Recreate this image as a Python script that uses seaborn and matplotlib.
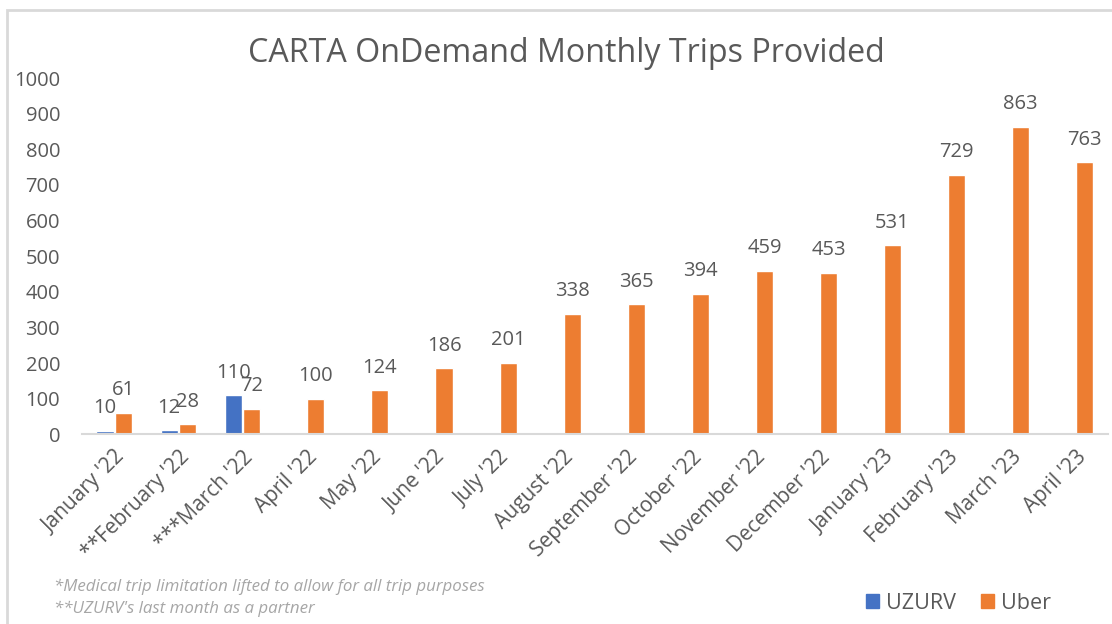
import pandas as pd
import seaborn as sns
import matplotlib.pyplot as plt
from matplotlib.patches import Rectangle

months = ["January '22", "**February '22", "***March '22", "April '22", "May '22",
          "June '22", "July '22", "August '22", "September '22", "October '22",
          "November '22", "December '22", "January '23", "February '23",
          "March '23", "April '23"]
uzurv = [10, 12, 110] + [None] * 13
uber = [61, 28, 72, 100, 124, 186, 201, 338, 365, 394, 459, 453, 531, 729, 863, 763]
notes = ["*Medical trip limitation lifted to allow for all trip purposes",
         "**UZURV's last month as a partner"]

blue = '#4472C4'
orange = '#ED7D31'
grey = '#595959'

df = pd.DataFrame({'month': months * 2,
                   'trips': uzurv + uber,
                   'provider': ['UZURV'] * len(months) + ['Uber'] * len(months)})

sns.set_style('white')
plt.rcParams['font.family'] = ['Open Sans', 'DejaVu Sans']

fig = plt.figure(figsize=(11.12, 6.24), dpi=100)
ax = fig.add_axes([0.074, 0.304, 0.922, 0.571])

sns.barplot(data=df, x='month', y='trips', hue='provider', order=months,
            hue_order=['UZURV', 'Uber'], palette=[blue, orange], saturation=1,
            width=0.58, gap=0.08, ax=ax, legend=False)

# value labels
for cont in ax.containers:
    labels = ['' if pd.isna(v) else f'{v:.0f}' for v in cont.datavalues]
    ax.bar_label(cont, labels=labels, padding=9, fontsize=14.5, color=grey)

ax.set_ylim(0, 1000)
ax.set_xlim(-0.5, len(months) - 0.5)
ax.set_yticks(range(0, 1001, 100))
ax.tick_params(axis='y', labelsize=14.5, labelcolor=grey, length=0, pad=16)
ax.tick_params(axis='x', labelsize=15, labelcolor=grey, length=0, pad=9)
for lab in ax.get_xticklabels():
    lab.set_rotation(45)
    lab.set_ha('right')
    lab.set_rotation_mode('anchor')
ax.set_xlabel('')
ax.set_ylabel('')
for s in ['top', 'right', 'left']:
    ax.spines[s].set_visible(False)
ax.spines['bottom'].set_color('#D9D9D9')
ax.spines['bottom'].set_linewidth(1.5)

fig.text(0.509, 0.915, 'CARTA OnDemand Monthly Trips Provided', ha='center',
         va='center', fontsize=23.2, color=grey)

fig.text(0.049, 0.059, notes[0], fontsize=12.2, style='italic', color='#A6A6A6', va='center')
fig.text(0.049, 0.024, notes[1], fontsize=12.2, style='italic', color='#A6A6A6', va='center')

handles = [Rectangle((0, 0), 1, 1, color=blue), Rectangle((0, 0), 1, 1, color=orange)]
fig.legend(handles, ['UZURV', 'Uber'], loc='center', bbox_to_anchor=(0.862, 0.033),
           ncol=2, frameon=False, fontsize=15.5, labelcolor=grey,
           handlelength=0.6, handleheight=0.6, handletextpad=0.3, columnspacing=1.2)

fig.patches.append(Rectangle((0.0065, -0.01), 1.1, 0.994, transform=fig.transFigure,
                             fill=False, edgecolor='#D9D9D9', linewidth=2))

fig.savefig('out.png', dpi=100)
